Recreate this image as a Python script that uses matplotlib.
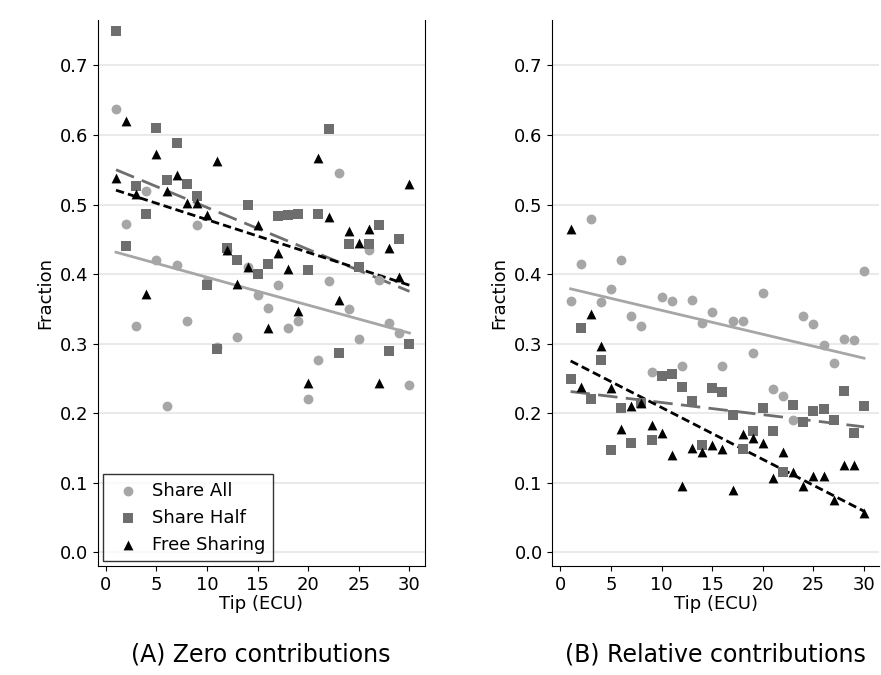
import numpy as np
import matplotlib
matplotlib.use("Agg")
import matplotlib.pyplot as plt

tips = np.arange(1, 31)
a_all = [0.637,0.472,0.325,0.52,0.42,0.21,0.413,0.333,0.47,0.39,0.295,0.435,0.31,0.41,0.37,0.352,0.385,0.323,0.333,0.22,0.277,0.39,0.545,0.35,0.307,0.435,0.392,0.33,0.315,0.24]
a_half = [0.75,0.441,0.527,0.487,0.61,0.535,0.588,0.53,0.513,0.385,0.293,0.438,0.42,0.5,0.4,0.415,0.483,0.485,0.486,0.406,0.487,0.608,0.286,0.443,0.41,0.443,0.47,0.29,0.451,0.3]
a_free = [0.538,0.62,0.515,0.372,0.573,0.52,0.542,0.502,0.502,0.485,0.563,0.435,0.386,0.41,0.47,0.323,0.43,0.407,0.347,0.243,0.567,0.482,0.363,0.462,0.445,0.465,0.243,0.437,0.396,0.53]
b_all = [0.362,0.415,0.48,0.36,0.378,0.42,0.34,0.325,0.26,0.367,0.362,0.268,0.363,0.33,0.345,0.268,0.333,0.332,0.287,0.373,0.235,0.225,0.19,0.34,0.328,0.298,0.272,0.307,0.305,0.404]
b_half = [0.25,0.322,0.22,0.277,0.147,0.207,0.157,0.215,0.162,0.253,0.257,0.238,0.218,0.155,0.237,0.23,0.198,0.149,0.175,0.207,0.175,0.115,0.212,0.187,0.203,0.206,0.19,0.232,0.172,0.21]
b_free = [0.465,0.238,0.343,0.297,0.237,0.178,0.21,0.215,0.183,0.172,0.14,0.095,0.15,0.145,0.155,0.148,0.09,0.17,0.165,0.157,0.107,0.145,0.115,0.095,0.11,0.11,0.075,0.125,0.125,0.057]

labels = ["Share All", "Share Half", "Free Sharing"]
colors = ["#a6a6a6", "#6e6e6e", "#000000"]
markers = ["o", "s", "^"]
styles = ["-", (0, (7, 3)), (0, (3, 1.5))]
titles = ["(A) Zero contributions", "(B) Relative contributions"]

fig = plt.figure(figsize=(8.81, 6.75), dpi=100)
axes = [fig.add_axes([0.111, 0.161, 0.371, 0.809]), fig.add_axes([0.627, 0.161, 0.371, 0.809])]
for ax, data, title in zip(axes, [(a_all, a_half, a_free), (b_all, b_half, b_free)], titles):
    for y, lab, c, m, ls in zip(data, labels, colors, markers, styles):
        ax.scatter(tips, y, color=c, marker=m, s=50, label=lab, zorder=3, linewidths=0)
        k, b = np.polyfit(tips, y, 1)
        xx = np.array([1, 30])
        ax.plot(xx, k*xx+b, color=c, linestyle=ls, lw=2, zorder=2)
    ax.set_ylim(-0.02, 0.765)
    ax.set_xlim(-0.8, 31.5)
    ax.set_yticks(np.arange(0, 0.71, 0.1))
    ax.set_yticklabels([f"{v:.1f}" for v in np.arange(0, 0.71, 0.1)])
    ax.set_xticks([0, 5, 10, 15, 20, 25, 30])
    ax.grid(axis="y", color="#eaeaea", lw=1.5)
    ax.set_axisbelow(True)
    for s in ["top", "right"]:
        ax.spines[s].set_visible(False)
    ax.tick_params(labelsize=13)
    ax.set_xlabel("Tip (ECU)", fontsize=13, labelpad=1)
    ax.set_ylabel("Fraction", fontsize=13)
    ax.text(0.5, -0.14, title, transform=ax.transAxes, ha="center", va="top", fontsize=17)
axes[0].spines["right"].set_visible(True)
leg = axes[0].legend(loc="lower left", fontsize=13, frameon=True, fancybox=False, edgecolor="black",
                     handletextpad=0.3, borderaxespad=0.3)
fig.savefig("out.png", dpi=100)
